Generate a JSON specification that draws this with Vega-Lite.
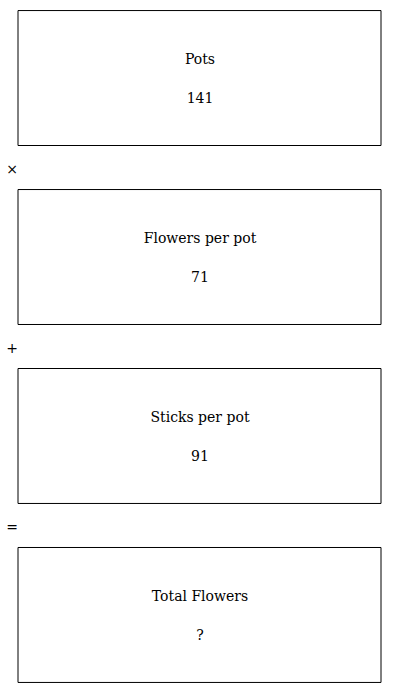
{
"$schema":"https://vega.github.io/schema/vega-lite/v6.json",
"width":400,"height":693,"padding":0,
"autosize":{"type":"fit","contains":"padding"},
"config":{"view":{"stroke":null}},
"data":{"values":[
{"k":"a","title":"Pots","val":"141","op":""},
{"k":"b","title":"Flowers per pot","val":"71","op":"×"},
{"k":"c","title":"Sticks per pot","val":"91","op":"+"},
{"k":"d","title":"Total Flowers","val":"?","op":"="}
]},
"encoding":{"y":{"field":"k","type":"nominal","axis":null,"scale":{"paddingInner":0.246,"paddingOuter":0.059}}},
"layer":[
{"mark":{"type":"rect","fill":"white","stroke":"black","strokeWidth":1},"encoding":{"x":{"value":18},"x2":{"value":381}}},
{"mark":{"type":"text","font":"DejaVu Serif","fontSize":14,"yOffset":-18,"color":"black"},"encoding":{"x":{"value":200},"text":{"field":"title"}}},
{"mark":{"type":"text","font":"DejaVu Serif","fontSize":14,"yOffset":21,"color":"black"},"encoding":{"x":{"value":200},"text":{"field":"val"}}},
{"transform":[{"filter":"datum.op != ''"}],"mark":{"type":"text","font":"DejaVu Sans","fontSize":14,"yOffset":-87,"color":"black"},"encoding":{"x":{"value":12},"text":{"field":"op"}}}
]
}
